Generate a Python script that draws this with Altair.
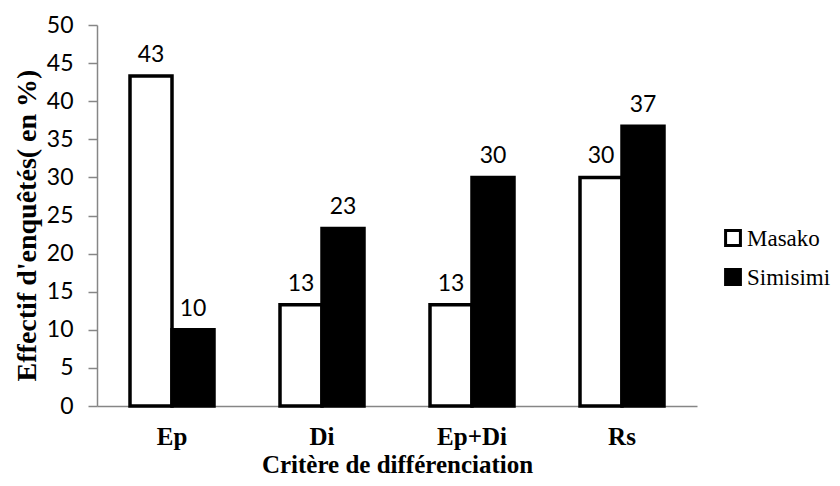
import altair as alt
import pandas as pd

categories = ["Ep", "Di", "Ep+Di", "Rs"]
masako = [43.3, 13.3, 13.3, 30.0]
simisimi = [10.0, 23.3, 30.0, 36.7]
series = ["Masako", "Simisimi"]
fills = ["white", "black"]

rows = []
for i, c in enumerate(categories):
    rows.append({"crit": c, "serie": series[0], "val": masako[i], "lab": str(round(masako[i]))})
    rows.append({"crit": c, "serie": series[1], "val": simisimi[i], "lab": str(round(simisimi[i]))})
df = pd.DataFrame(rows)
leg_df = pd.DataFrame({"serie": series})

xaxis = alt.Axis(title="Critère de différenciation", labelAngle=0,
                 ticks=False, tickSize=0, labelPadding=18,
                 labelFont="Liberation Serif", labelFontWeight="bold",
                 labelFontSize=25, labelColor="black",
                 titleFont="Liberation Serif", titleFontWeight="bold",
                 titleFontSize=25, titleColor="black",
                 titleX=300, titleY=66, titleBaseline="alphabetic",
                 titleAlign="center",
                 domainColor="#868686", domainWidth=1.5)
yaxis = alt.Axis(title="Effectif d'enquêtés( en %)", values=list(range(0, 51, 5)),
                 grid=False, tickSize=9, labelPadding=15, labelOverlap=False,
                 labelFont="Lato", labelFontSize=23, labelColor="black",
                 tickColor="#868686", tickWidth=1.5,
                 domainColor="#868686", domainWidth=1.5,
                 titleFont="Liberation Serif", titleFontWeight="bold",
                 titleFontSize=28, titleColor="black",
                 titleAngle=270, titleX=-62, titleY=200,
                 titleAlign="center", titleBaseline="alphabetic")

xenc = alt.X("crit:N", sort=categories,
             scale=alt.Scale(paddingInner=0.44, paddingOuter=0.22), axis=xaxis)
yscale = alt.Scale(domain=[0, 50])
xoff = alt.XOffset("serie:N", sort=series)
fillenc = alt.Fill("serie:N", sort=series,
                   scale=alt.Scale(domain=series, range=fills), legend=None)

base = alt.Chart(df)

bars = base.mark_bar(stroke="black", strokeWidth=3.5).encode(
    x=xenc,
    xOffset=xoff,
    y=alt.Y("val:Q", scale=yscale, axis=yaxis),
    fill=fillenc,
)

labels = base.mark_text(font="Lato", fontSize=23, color="black",
                        baseline="alphabetic", dy=-14).encode(
    x=xenc,
    xOffset=xoff,
    y=alt.Y("val:Q", scale=yscale, axis=None),
    text="lab:N",
)

leg_y = alt.Y("serie:N", sort=series,
              scale=alt.Scale(domain=series, range=[213, 252], padding=0), axis=None)

leg_sym = alt.Chart(leg_df).mark_square(size=220, stroke="black", strokeWidth=3,
                                        opacity=1).encode(
    x=alt.value(636),
    y=leg_y,
    fill=fillenc,
)

leg_txt = alt.Chart(leg_df).mark_text(
    font="Liberation Serif, Times New Roman, DejaVu Serif, serif",
    fontSize=23, fontWeight="normal", color="black",
    align="left", baseline="middle", dy=1).encode(
    x=alt.value(650),
    y=leg_y,
    text="serie:N",
)

chart = alt.layer(bars, labels, leg_sym, leg_txt).resolve_scale(y="independent").properties(
    width=600, height=381,
    autosize=alt.AutoSizeParams(type="none"),
    padding={"left": 89, "top": 17, "right": 135, "bottom": 72},
).configure(
    background="white",
).configure_view(stroke=None)

chart.save("out.html", embed_options={"renderer": "svg", "actions": False})
